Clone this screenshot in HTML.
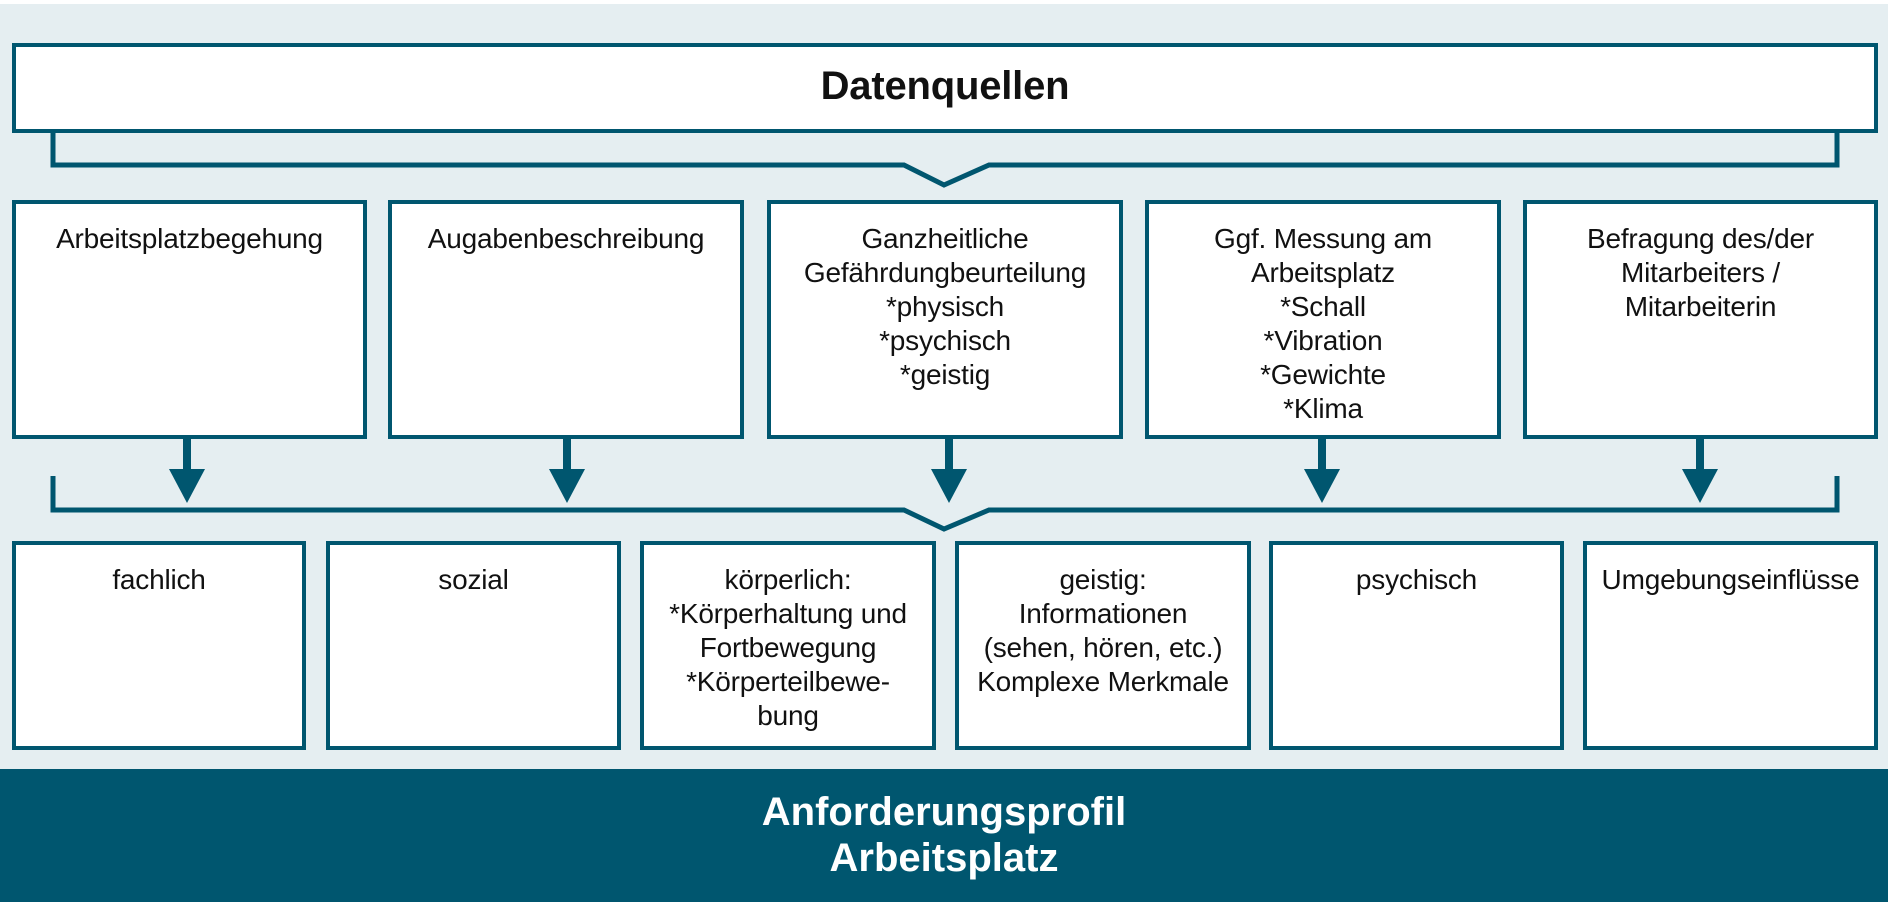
<!DOCTYPE html>
<html><head><meta charset="utf-8"><style>
body{margin:0;width:1890px;height:922px;background:#fff;position:relative;overflow:hidden;font-family:"Liberation Sans",sans-serif;color:#111}
.bg{position:absolute;left:0;top:4px;width:1888px;height:765px;background:#e5eef1}
.b{position:absolute;box-sizing:border-box;border:4px solid #00566f;background:#fff;text-align:center;font-size:28px;line-height:34px;padding-top:18px;letter-spacing:-0.2px}
.band{position:absolute;left:0;top:769px;width:1888px;height:133px;background:#00566f;color:#fff;font-weight:bold;font-size:40px;line-height:46px;text-align:center;padding-top:20px;box-sizing:border-box}
svg{position:absolute;left:0;top:0}
</style></head><body>
<div class="bg"></div>
<svg width="1890" height="922">
<g fill="none" stroke="#00566f" stroke-width="5">
<polyline points="53,133 53,165 904,165 944,185 989,165 1837,165 1837,133"/>
<polyline points="53,476 53,510 904,510 944,529 989,510 1837,510 1837,476"/>
</g>
<g fill="#00566f">
<rect x="183" y="439" width="8" height="32"/><polygon points="169,469 205,469 187,503"/>
<rect x="563" y="439" width="8" height="32"/><polygon points="549,469 585,469 567,503"/>
<rect x="945" y="439" width="8" height="32"/><polygon points="931,469 967,469 949,503"/>
<rect x="1318" y="439" width="8" height="32"/><polygon points="1304,469 1340,469 1322,503"/>
<rect x="1696" y="439" width="8" height="32"/><polygon points="1682,469 1718,469 1700,503"/>
</g>
</svg>
<div class="b" style="left:12px;top:43px;width:1866px;height:90px;font-weight:bold;font-size:40px;padding-top:22px">Datenquellen</div>
<div class="b" style="left:12px;top:200px;width:355px;height:239px">Arbeitsplatzbegehung</div>
<div class="b" style="left:388px;top:200px;width:356px;height:239px">Augabenbeschreibung</div>
<div class="b" style="left:767px;top:200px;width:356px;height:239px">Ganzheitliche<br>Gefährdungbeurteilung<br>*physisch<br>*psychisch<br>*geistig</div>
<div class="b" style="left:1145px;top:200px;width:356px;height:239px">Ggf. Messung am<br>Arbeitsplatz<br>*Schall<br>*Vibration<br>*Gewichte<br>*Klima</div>
<div class="b" style="left:1523px;top:200px;width:355px;height:239px">Befragung des/der<br>Mitarbeiters /<br>Mitarbeiterin</div>
<div class="b" style="left:12px;top:541px;width:294px;height:209px">fachlich</div>
<div class="b" style="left:326px;top:541px;width:295px;height:209px">sozial</div>
<div class="b" style="left:640px;top:541px;width:296px;height:209px">körperlich:<br>*Körperhaltung und<br>Fortbewegung<br>*Körperteilbewe-<br>bung</div>
<div class="b" style="left:955px;top:541px;width:296px;height:209px">geistig:<br>Informationen<br>(sehen, hören, etc.)<br>Komplexe Merkmale</div>
<div class="b" style="left:1269px;top:541px;width:295px;height:209px">psychisch</div>
<div class="b" style="left:1583px;top:541px;width:295px;height:209px">Umgebungseinflüsse</div>
<div class="band">Anforderungsprofil<br>Arbeitsplatz</div>
</body></html>
